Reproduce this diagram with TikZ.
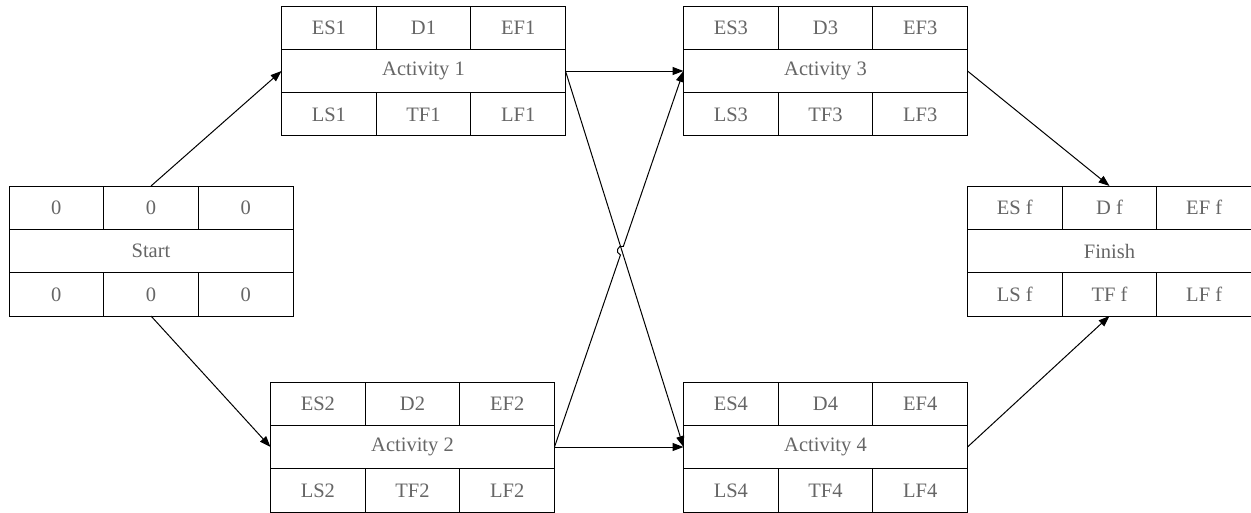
\documentclass[tikz,border=0pt]{standalone}
\usepackage{fontspec}
\setmainfont{Liberation Serif}
\usetikzlibrary{arrows.meta,calc}
\tikzset{
  cell/.style={draw, line width=1pt, outer sep=0pt, inner sep=0pt,
    minimum width=94.67pt, minimum height=43.33pt, text=black!60,
    font=\fontsize{20.5}{24}\selectfont},
  midcell/.style={cell, minimum width=284pt},
  arr/.style={line width=1pt, -{Triangle[length=11pt,width=8pt]}},
}
\newcommand\pertbox[9]{%
  \node[midcell] (#1) at #2 {#6};
  \node[cell, anchor=south west] (#1-tl) at (#1.north west) {#3};
  \node[cell, anchor=south] (#1-tm) at (#1.north) {#4};
  \node[cell, anchor=south east] (#1-tr) at (#1.north east) {#5};
  \node[cell, anchor=north west] (#1-bl) at (#1.south west) {#7};
  \node[cell, anchor=north] (#1-bm) at (#1.south) {#8};
  \node[cell, anchor=north east] (#1-br) at (#1.south east) {#9};
}
\begin{document}
\begin{tikzpicture}[x=1pt,y=-1pt]
\useasboundingbox[fill=white] (0,0) rectangle (1251,512);
\pertbox{start}{(151,251)}{0}{0}{0}{Start}{0}{0}{0}
\pertbox{a1}{(423.5,71)}{ES1}{D1}{EF1}{Activity 1}{LS1}{TF1}{LF1}
\pertbox{a3}{(825.5,71)}{ES3}{D3}{EF3}{Activity 3}{LS3}{TF3}{LF3}
\pertbox{a2}{(412.5,447)}{ES2}{D2}{EF2}{Activity 2}{LS2}{TF2}{LF2}
\pertbox{a4}{(825.5,447)}{ES4}{D4}{EF4}{Activity 4}{LS4}{TF4}{LF4}
\pertbox{fin}{(1109.5,251)}{ES f}{D f}{EF f}{Finish}{LS f}{TF f}{LF f}
\coordinate (X) at (intersection of a2.east--a3.west and a1.east--a4.west);
\coordinate (P1) at ($(X)!4.5pt!(a2.east)$);
\coordinate (P2) at ($(X)!4.5pt!(a3.west)$);
\draw[arr] (start-tm.north) -- (a1.west);
\draw[arr] (start-bm.south) -- (a2.west);
\draw[arr] (a1.east) -- (a3.west);
\draw[arr] (a1.east) -- (a4.west);
\draw[arr] (a2.east) -- (a4.west);
\draw[arr] (a2.east) -- (P1) to[bend left=90, looseness=1.7] (P2) -- (a3.west);
\draw[arr] (a3.east) -- (fin-tm.north);
\draw[arr] (a4.east) -- (fin-bm.south);
\end{tikzpicture}
\end{document}
